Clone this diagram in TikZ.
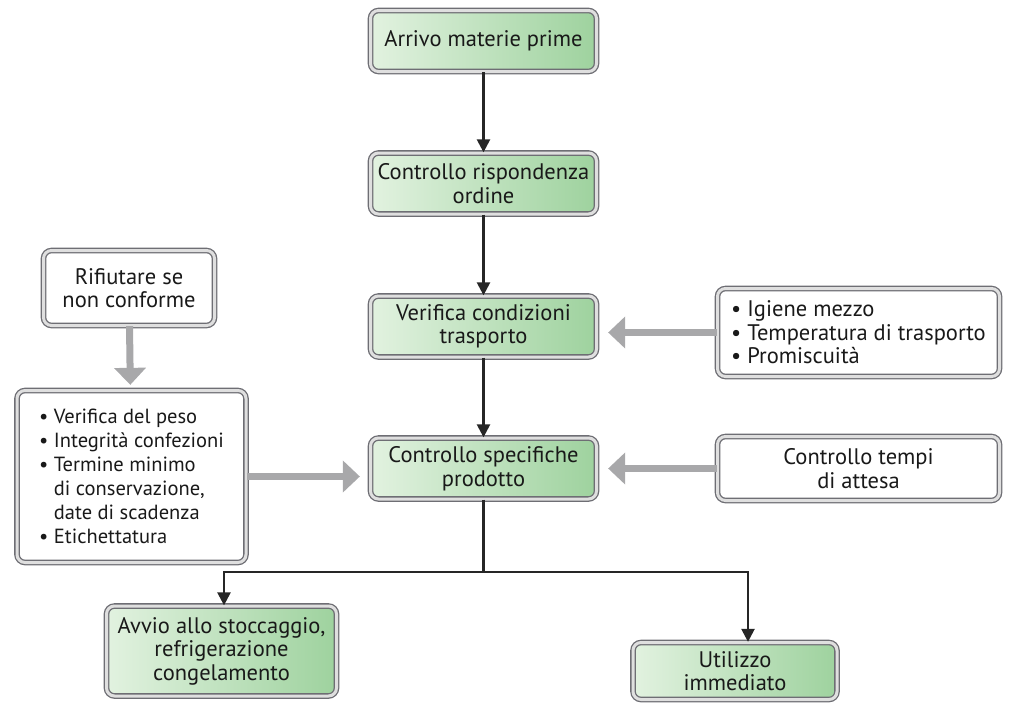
\documentclass[tikz,border=0pt]{standalone}
\usepackage{fontspec}
\setmainfont{PT Sans}
\usetikzlibrary{arrows.meta,calc}
\definecolor{greenlight}{RGB}{226,242,224}
\definecolor{greendark}{RGB}{158,210,158}
\definecolor{frame}{RGB}{110,110,116}
\definecolor{feedgray}{RGB}{168,168,170}
\tikzset{
	box/.style={rounded corners=8pt, draw=frame, line width=1.3pt, double=gray!25,
		double distance=3pt, align=center, inner sep=4pt, text=black!90,
		font=\fontsize{22.5}{23.5}\selectfont},
	greenbox/.style={box, left color=greenlight, right color=greendark},
	whitebox/.style={box, fill=white},
	flow/.style={line width=2.4pt, color=black!85, -{Triangle[length=13pt,width=13pt]}},
	feed/.style={line width=7pt, color=feedgray, -{Triangle[length=17pt,width=31pt]}}
}
\newcommand{\bul}{\textbullet~}
\newcommand{\nobul}{\phantom{\textbullet}~}

\begin{document}
\begin{tikzpicture}[x=1pt,y=-1pt]
		%%%%% START %%%%%
		\useasboundingbox (0,0) rectangle (1009,704);
		
		\node[greenbox, minimum width=226, minimum height=61] (arrivo) at (483.5,41) {Arrivo materie prime};
		\node[greenbox, minimum width=226, minimum height=61] (ordine) at (483.5,183.5) {Controllo rispondenza\\ordine};
		\node[greenbox, minimum width=226, minimum height=61] (trasporto) at (483.5,326.5) {Verifica condizioni\\trasporto};
		\node[greenbox, minimum width=226, minimum height=61] (specifiche) at (483.5,468.5) {Controllo specifiche\\prodotto};
		
		\node[whitebox, minimum width=171, minimum height=75] (rifiuto) at (129,288) {Rifiutare se\\non conforme};
		\node[whitebox, minimum width=229, minimum height=172, align=left,
			font=\fontsize{20.5}{24}\selectfont] (peso) at (131.5,476.5)
			{\bul Verifica del peso\\ \bul Integrità confezioni\\ \bul Termine minimo\\ \nobul di conservazione,\\ \nobul date di scadenza\\ \bul Etichettatura};
		
		\node[whitebox, minimum width=282, minimum height=88, align=left] (igiene) at (858.5,332.5)
			{\bul Igiene mezzo\\ \bul Temperatura di trasporto\\ \bul Promiscuità};
		\node[whitebox, minimum width=282, minimum height=64] (attesa) at (858.5,468.5) {Controllo tempi\\di attesa};
		
		\node[greenbox, minimum width=230, minimum height=90] (stoccaggio) at (221.5,651) {Avvio allo stoccaggio,\\refrigerazione\\congelamento};
		\node[greenbox, minimum width=204, minimum height=57] (utilizzo) at (735,671) {Utilizzo\\immediato};
		
		% black flow
		\draw[flow] (arrivo) -- (ordine);
		\draw[flow] (ordine) -- (trasporto);
		\draw[flow] (trasporto) -- (specifiche);
		\coordinate (split) at (483.5,572);
		\draw[line width=2.4pt, color=black!85] (specifiche) -- (split);
		\draw[flow] (split) -| ([xshift=2.5pt]stoccaggio.north);
		\draw[flow] (split) -| ([xshift=13pt]utilizzo.north);
		
		% gray feeds
		\draw[feed, shorten >=5pt] (rifiuto) -- (peso);
		\draw[feed, shorten >=10pt] (peso) -- (peso -| specifiche.west);
		\draw[feed, shorten >=11pt] (igiene) -- (igiene -| trasporto.east);
		\draw[feed, shorten >=11pt] (attesa) -- (attesa -| specifiche.east);
		
		%%%%% END %%%%%
	\end{tikzpicture}
\end{document}
